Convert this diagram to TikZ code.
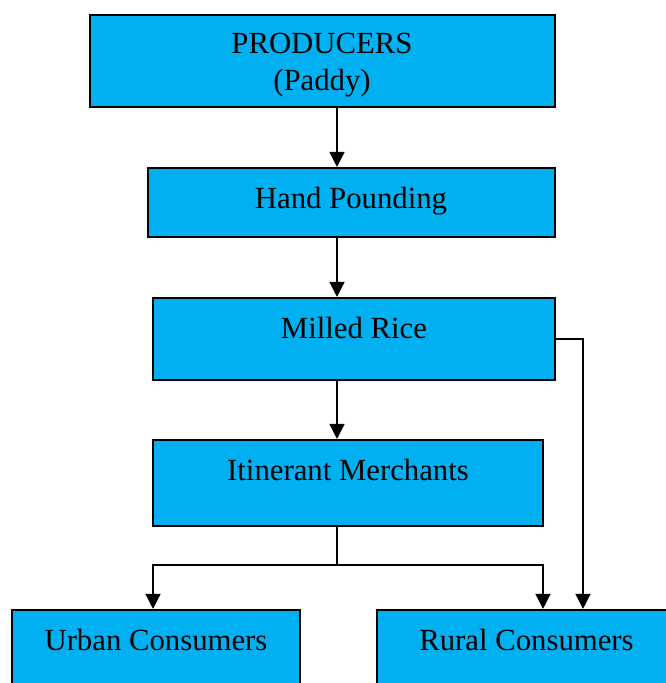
\documentclass[tikz,border=0pt]{standalone}
\usepackage{fontspec}
\setmainfont{Liberation Serif}
\usepackage{tikz}
\usetikzlibrary{arrows.meta}
\usetikzlibrary{positioning}

\definecolor{boxblue}{HTML}{00B0F0}

\tikzset{
    stage/.style={draw=black,fill=boxblue,line width=1.2pt,inner sep=0pt},
    caption/.style={anchor=base,font=\fontsize{17.5}{20.5}\selectfont,align=center,inner sep=0pt},
    flow/.style={line width=0.8pt,-{Triangle[length=0.3cm,width=0.3cm]}},
    joint/.style={line width=0.8pt}
}

\begin{document}
\begin{tikzpicture}[x=0.02cm,y=-0.02cm]
    \useasboundingbox (0,0) rectangle (666,683);

    \node[stage,minimum width=9.3cm,minimum height=1.84cm] (prod) at (322.5,61) {};
    \node[stage,minimum width=8.14cm,minimum height=1.38cm] (hand) at (351.5,202.5) {};
    \node[stage,minimum width=8.04cm,minimum height=1.64cm] (milled) at (354,339) {};
    \node[stage,minimum width=7.8cm,minimum height=1.72cm] (merch) at (348,483) {};
    \node[stage,minimum width=5.76cm,minimum height=1.8cm] (urban) at (156,655) {};
    \node[stage,minimum width=5.98cm,minimum height=1.8cm] (rural) at (526.5,655) {};

    \node[caption] (prodtext) at (322,90) {PRODUCERS\\(Paddy)};
    \node[caption] (handtext) at (351,208) {Hand Pounding};
    \node[caption] (milledtext) at (354,338) {Milled Rice};
    \node[caption] (merchtext) at (348,480) {Itinerant Merchants};
    \node[caption] (urbantext) at (156,650) {Urban Consumers};
    \node[caption] (ruraltext) at (526.5,650) {Rural Consumers};

    % columns the connectors run on
    \coordinate (spine) at (337,0);
    \coordinate (urbanx) at (153,0);
    \coordinate (ruralx) at (543,0);
    \coordinate (sidex) at (583,0);
    \coordinate (split) at (337,565);

    \draw[flow] (prod.south -| spine) -- (hand.north -| spine);
    \draw[flow] (hand.south -| spine) -- (milled.north -| spine);
    \draw[flow] (milled.south -| spine) -- (merch.north -| spine);

    \draw[joint] (merch.south -| spine) -- (split);
    \draw[flow] (split) -| (urban.north -| urbanx);
    \draw[flow] (split) -| (rural.north -| ruralx);
    \draw[flow] (milled.east) -| (rural.north -| sidex);
\end{tikzpicture}
\end{document}
